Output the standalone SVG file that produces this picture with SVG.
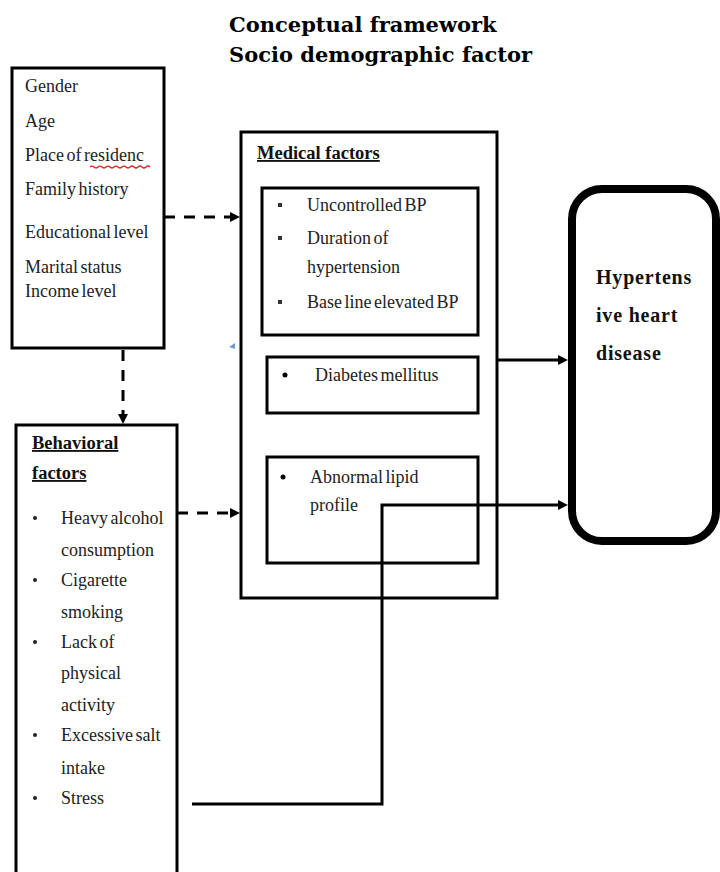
<svg xmlns="http://www.w3.org/2000/svg" width="720" height="872" viewBox="0 0 720 872">
<style>
.box{fill:#fff;stroke:#000;stroke-width:3}
.t{font-family:"Liberation Serif","Times New Roman",serif;font-size:18px;word-spacing:-2px;fill:#222}
.h{font-family:"Liberation Serif","Times New Roman",serif;font-size:18.5px;font-weight:bold;text-decoration:underline;fill:#111}
.hh{font-family:"Liberation Serif","Times New Roman",serif;font-size:20px;font-weight:bold;letter-spacing:0.8px;fill:#111}
.title{font-family:"DejaVu Serif","Liberation Serif",serif;font-size:21px;font-weight:bold;fill:#000}
.dash{fill:none;stroke:#000;stroke-width:3;stroke-dasharray:11,9}
.solid{fill:none;stroke:#000;stroke-width:3}
</style>
<rect width="720" height="872" fill="#fff"/>
<g id="title">
<text class="title" x="229" y="32">Conceptual framework</text>
<text class="title" x="229" y="62">Socio demographic factor</text>
</g>
<g id="socio">
<rect class="box" x="12" y="68" width="152" height="280"/>
<text class="t" x="25" y="92">Gender</text>
<text class="t" x="25" y="127">Age</text>
<text class="t" x="25" y="161">Place of residenc</text>
<path d="M90,167 q2,-2 4,0 t4,0 t4,0 t4,0 t4,0 t4,0 t4,0 t4,0 t4,0 t4,0 t4,0 t4,0 t4,0 t4,0 t4,0" fill="none" stroke="#d22" stroke-width="1.2"/>
<text class="t" x="25" y="195">Family history</text>
<text class="t" x="25" y="238">Educational level</text>
<text class="t" x="25" y="273">Marital status</text>
<text class="t" x="25" y="297">Income level</text>
</g>
<g id="medical">
<rect class="box" x="241" y="132" width="256" height="466"/>
<text class="h" x="257" y="159">Medical factors</text>
<rect class="box" x="262" y="188" width="216" height="147"/>
<rect x="278" y="203" width="4" height="4" fill="#333"/>
<rect x="278" y="236" width="4" height="4" fill="#333"/>
<rect x="278" y="300" width="4" height="4" fill="#333"/>
<text class="t" x="307" y="211">Uncontrolled BP</text>
<text class="t" x="307" y="244">Duration of</text>
<text class="t" x="307" y="273">hypertension</text>
<text class="t" x="307" y="308">Base line elevated BP</text>
<rect class="box" x="267" y="357" width="211" height="56"/>
<circle cx="285" cy="375" r="2.5" fill="#000"/>
<text class="t" x="315" y="381">Diabetes mellitus</text>
<rect class="box" x="267" y="457" width="211" height="106"/>
<circle cx="283" cy="477" r="2.5" fill="#000"/>
<text class="t" x="310" y="483">Abnormal lipid</text>
<text class="t" x="310" y="511">profile</text>
</g>
<g id="behavioral">
<rect class="box" x="16" y="425" width="161" height="460"/>
<text class="h" x="32" y="449">Behavioral</text>
<text class="h" x="32" y="479">factors</text>
<g fill="#222">
<circle cx="35" cy="518" r="2"/>
<circle cx="35" cy="580" r="2"/>
<circle cx="35" cy="642" r="2"/>
<circle cx="35" cy="735" r="2"/>
<circle cx="35" cy="798" r="2"/>
</g>
<text class="t" x="61" y="524">Heavy alcohol</text>
<text class="t" x="61" y="556">consumption</text>
<text class="t" x="61" y="586">Cigarette</text>
<text class="t" x="61" y="618">smoking</text>
<text class="t" x="61" y="648">Lack of</text>
<text class="t" x="61" y="679">physical</text>
<text class="t" x="61" y="711">activity</text>
<text class="t" x="61" y="741">Excessive salt</text>
<text class="t" x="61" y="774">intake</text>
<text class="t" x="61" y="804">Stress</text>
</g>
<g id="hhd">
<rect x="572" y="189" width="144" height="352" rx="30" ry="30" fill="#fff" stroke="#000" stroke-width="8"/>
<text class="hh" x="596" y="284">Hypertens</text>
<text class="hh" x="596" y="322">ive heart</text>
<text class="hh" x="596" y="360">disease</text>
</g>
<g id="connectors">
<path class="dash" d="M164,217 H230"/>
<path d="M230,212 L240,217 L230,222 Z" fill="#000"/>
<path class="dash" d="M123,350 V414"/>
<path d="M118,414 L123,424 L128,414 Z" fill="#000"/>
<path class="dash" d="M177,513 H230"/>
<path d="M230,508 L240,513 L230,518 Z" fill="#000"/>
<path class="solid" d="M497,360 H560"/>
<path d="M558,355 L568,360 L558,365 Z" fill="#000"/>
<path class="solid" d="M192,804 H382 V505 H560"/>
<path d="M558,500 L568,505 L558,510 Z" fill="#000"/>
<path d="M229,347 L235,343 L235,349 Z" fill="#6a9fd4"/>
</g>
</svg>
